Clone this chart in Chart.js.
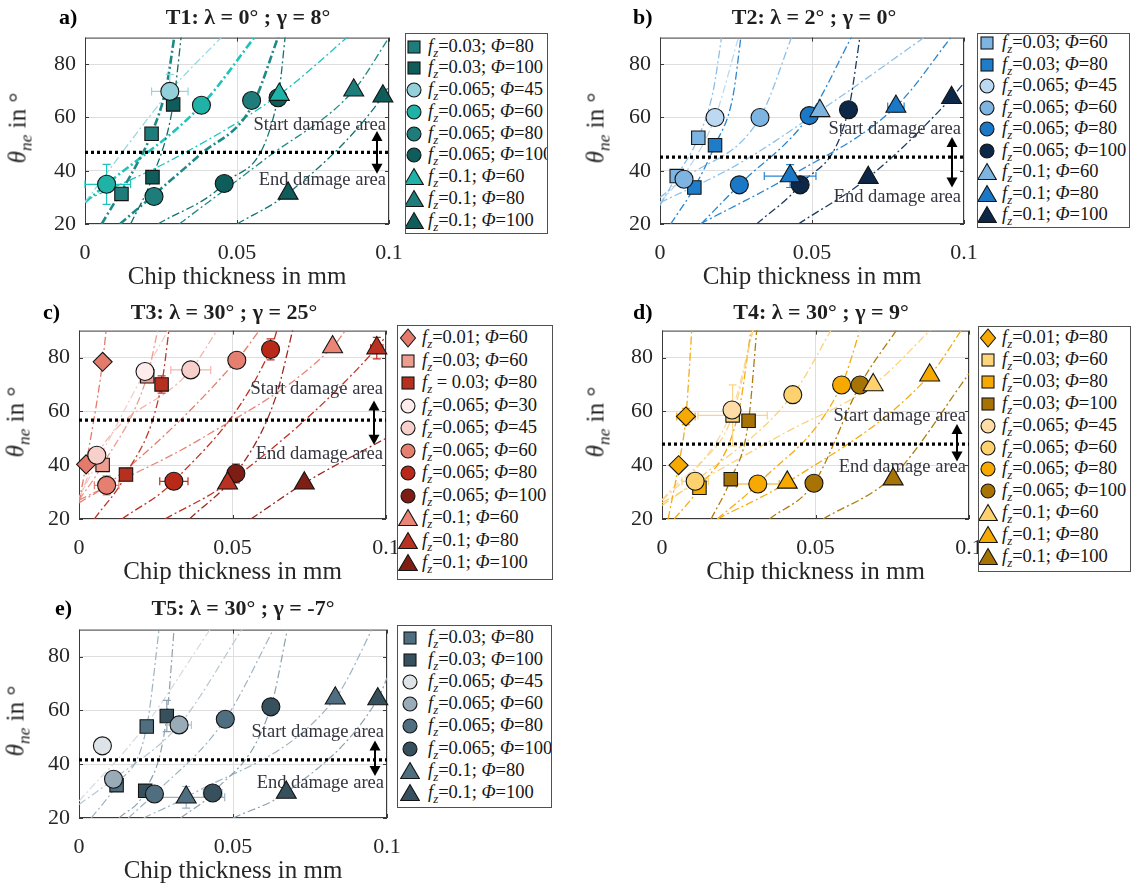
<!DOCTYPE html>
<html>
<head>
<meta charset="utf-8">
<script src="https://cdn.jsdelivr.net/npm/chart.js@4.4.1/dist/chart.umd.min.js"></script>
<style>
  html, body { margin: 0; padding: 0; background: #fff; }
  body { width: 1132px; height: 888px; position: relative; overflow: hidden;
         font-family: "Liberation Serif", "Times New Roman", serif; color: #262626; }
  canvas { position: absolute; }
  .tag { position: absolute; font-weight: bold; font-size: 22px; color: #000;
         transform: translateY(-50%); white-space: nowrap; line-height: 1; }
  .ttl { position: absolute; font-weight: bold; font-size: 22px; color: #1f1f1f;
         transform: translate(-50%, -50%); white-space: nowrap; line-height: 1; }
  .ylab { position: absolute; font-size: 25px; color: #262626; white-space: nowrap; line-height: 1;
          transform: translate(-50%, -50%) rotate(-90deg); }
  .ylab sub, .lt sub { font-size: 0.7em; vertical-align: -0.35em; line-height: 0; }
  .leg { position: absolute; box-sizing: border-box; border: 1px solid #505050; background: #fff; overflow: hidden; }
  .row { position: absolute; left: 0; height: 0; width: 100%; }
  .lt { position: absolute; top: 0; font-size: 18.5px; color: #151515; white-space: nowrap;
        line-height: 1; transform: translateY(-52%); }
</style>
</head>
<body>
<script>
// ---------- shared axes ----------
const xTicks = [0, 0.05, 0.1];
const xTickLabels = ['0', '0.05', '0.1'];
const yTicks = [20, 40, 60, 80];
const yTickLabels = ['20', '40', '60', '80'];
const xTitle = 'Chip thickness in mm';
const damageLabels = ['Start damage area', 'End damage area'];
const panelTags = ['a)', 'b)', 'c)', 'd)', 'e)'];
const panelTitles = ['T1: λ = 0° ; γ = 8°', 'T2: λ = 2° ; γ = 0°', 'T3: λ = 30° ; γ = 25°',
                     'T4: λ = 30° ; γ = 9°', 'T5: λ = 30° ; γ = -7°'];

// ---------- T1 ----------
const aFeed = ['0.03', '0.03', '0.065', '0.065', '0.065', '0.065', '0.1', '0.1', '0.1'];
const aPhi = [80, 100, 45, 60, 80, 100, 60, 80, 100];
const aPoints = [
  [[0.0120, 31.3], [0.0219, 53.9]],
  [[0.0222, 37.6], [0.0290, 64.9]],
  [[0.0279, 69.8]],
  [[0.0071, 34.9], [0.0383, 64.6]],
  [[0.0227, 30.3], [0.0548, 66.4]],
  [[0.0458, 35.2], [0.0635, 67.4]],
  [[0.0639, 68.6]],
  [[0.0884, 70.2]],
  [[0.0668, 31.5], [0.0980, 68.0]]
];
const aCurves = [
  [[0.0055, 20], [0.0181, 44.7], [0.0219, 53.9], [0.0268, 71.7], [0.0296, 92]],
  [[0.0150, 20], [0.0222, 37.6], [0.0290, 64.9], [0.0318, 92]],
  [[0, 28.2], [0.0279, 69.8], [0.0465, 92]],
  [[0, 28.2], [0.0071, 34.9], [0.0383, 64.6], [0.0570, 92]],
  [[0.0115, 20], [0.0227, 31.0], [0.0378, 46.0], [0.0548, 64.0], [0.0641, 92]],
  [[0.0240, 20], [0.0458, 35.2], [0.0635, 67.4], [0.0660, 92]],
  [[0, 28.8], [0.0300, 45.0], [0.0639, 68.6], [0.0882, 92]],
  [[0.0310, 20], [0.0600, 45.0], [0.0884, 70.2], [0.1000, 90]],
  [[0.0500, 20], [0.0668, 31.5], [0.0980, 68.0], [0.1000, 72]]
];
const aThreshold = 46.9;
const aErrors = [[2, 0, 0.0060, 6.4], [3, 0, 0.0079, 7.5]];

// ---------- T2 ----------
const bFeed = ['0.03', '0.03', '0.065', '0.065', '0.065', '0.065', '0.1', '0.1', '0.1'];
const bPhi = [60, 80, 45, 60, 80, 100, 60, 80, 100];
const bPoints = [
  [[0.0055, 38.0], [0.0126, 52.4]],
  [[0.0113, 33.7], [0.0181, 49.6]],
  [[0.0181, 60.0]],
  [[0.0079, 36.8], [0.0329, 60.0]],
  [[0.0261, 34.7], [0.0491, 60.7]],
  [[0.0461, 34.7], [0.0620, 62.9]],
  [[0.0526, 62.5]],
  [[0.0428, 38.0], [0.0776, 64.1]],
  [[0.0685, 37.4], [0.0959, 67.4]]
];
const bCurves = [
  [[0, 27], [0.0055, 38.0], [0.0126, 52.4], [0.0175, 70], [0.0205, 92]],
  [[0.0035, 20], [0.0113, 33.7], [0.0181, 49.6], [0.0240, 68], [0.0268, 92]],
  [[0, 28], [0.0100, 42], [0.0181, 60.0], [0.0263, 92]],
  [[0, 30], [0.0079, 37], [0.0329, 60.0], [0.0439, 92]],
  [[0.0135, 20], [0.0261, 34.7], [0.0491, 60.7], [0.0638, 92]],
  [[0.0318, 20], [0.0461, 34.7], [0.0620, 62.9], [0.0660, 92]],
  [[0, 28], [0.0250, 42], [0.0526, 62.5], [0.0893, 92]],
  [[0.0132, 20], [0.0428, 38.0], [0.0776, 64.1], [0.0970, 92]],
  [[0.0455, 20], [0.0685, 37.4], [0.0959, 67.4], [0.1000, 73]]
];
const bThreshold = 45.1;
const bErrors = [[7, 0, 0.0085, 4.3], [7, 1, 0.0027, 2.0]];

// ---------- T3 ----------
const cFeed = ['0.01', '0.03', '0.03', '0.065', '0.065', '0.065', '0.065', '0.065', '0.1', '0.1', '0.1'];
const cPhi = [60, 60, 80, 30, 45, 60, 80, 100, 60, 80, 100];
const cPoints = [
  [[0.0023, 40.3], [0.0077, 78.4]],
  [[0.0077, 40.1], [0.0222, 73.0]],
  [[0.0153, 36.5], [0.0269, 70.0]],
  [[0.0215, 74.8]],
  [[0.0058, 43.7], [0.0364, 75.4]],
  [[0.0090, 32.5], [0.0514, 79.0]],
  [[0.0309, 34.0], [0.0624, 83.0]],
  [[0.0511, 36.9]],
  [[0.0826, 83.9]],
  [[0.0484, 33.3], [0.0970, 83.5]],
  [[0.0734, 33.3]]
];
const cCurves = [
  [[0, 26], [0.0023, 40.3], [0.0077, 78.4], [0.0090, 92]],
  [[0, 27], [0.0077, 40.1], [0.0222, 73.0], [0.0260, 92]],
  [[0.0050, 20], [0.0153, 36.5], [0.0269, 70.0], [0.0295, 92]],
  [[0, 28], [0.0215, 74.8], [0.0300, 92]],
  [[0, 27], [0.0058, 43.7], [0.0364, 75.4], [0.0460, 92]],
  [[0, 26], [0.0090, 32.5], [0.0514, 79.0], [0.0600, 92]],
  [[0.0140, 20], [0.0309, 34.0], [0.0624, 83.0], [0.0650, 92]],
  [[0.0360, 20], [0.0511, 36.9], [0.0640, 65], [0.0700, 92]],
  [[0, 27], [0.0400, 50], [0.0826, 83.9], [0.0880, 92]],
  [[0.0280, 20], [0.0484, 33.3], [0.0970, 83.5], [0.1000, 88]],
  [[0.0560, 20], [0.0734, 33.3], [0.1000, 50]]
];
const cThreshold = 56.7;
const cErrors = [[2, 1, 0, 3.2], [3, 0, 0.0020, 2.5], [4, 1, 0.0065, 0], [5, 0, 0.0040, 3.5],
                 [6, 0, 0.0046, 0], [6, 1, 0, 3.9], [7, 0, 0, 3.5], [9, 0, 0, 2.0], [9, 1, 0.0020, 4.0]];

// ---------- T4 ----------
const dFeed = ['0.01', '0.03', '0.03', '0.03', '0.065', '0.065', '0.065', '0.065', '0.1', '0.1', '0.1'];
const dPhi = [80, 60, 80, 100, 45, 60, 80, 100, 60, 80, 100];
const dPoints = [
  [[0.0054, 40.0], [0.0078, 58.1]],
  [[0.0230, 58.5]],
  [[0.0122, 31.6]],
  [[0.0224, 34.8], [0.0282, 56.5]],
  [[0.0228, 60.5]],
  [[0.0108, 34.0], [0.0426, 66.2]],
  [[0.0312, 33.0], [0.0585, 69.8]],
  [[0.0495, 33.3], [0.0645, 69.8]],
  [[0.0688, 69.8]],
  [[0.0408, 33.6], [0.0872, 73.4]],
  [[0.0753, 34.8]]
];
const dCurves = [
  [[0.0020, 20], [0.0054, 40.0], [0.0078, 58.1], [0.0098, 92]],
  [[0, 27], [0.0120, 40], [0.0230, 58.5], [0.0300, 92]],
  [[0.0040, 20], [0.0122, 31.6], [0.0250, 60], [0.0292, 92]],
  [[0.0160, 20], [0.0224, 34.8], [0.0282, 56.5], [0.0310, 92]],
  [[0, 27], [0.0228, 60.5], [0.0300, 92]],
  [[0, 25], [0.0108, 34.0], [0.0426, 66.2], [0.0560, 92]],
  [[0.0180, 20], [0.0312, 33.0], [0.0585, 69.8], [0.0650, 92]],
  [[0.0350, 20], [0.0495, 33.3], [0.0645, 69.8], [0.0775, 92]],
  [[0, 26], [0.0400, 52], [0.0688, 69.8], [0.0890, 92]],
  [[0.0180, 20], [0.0408, 33.6], [0.0872, 73.4], [0.0986, 92]],
  [[0.0525, 20], [0.0753, 36.0], [0.1000, 74]]
];
const dThreshold = 47.8;
const dErrors = [[0, 1, 0.0030, 3.0], [1, 0, 0.0113, 11.3], [5, 0, 0.0043, 2.5], [6, 0, 0.0070, 0]];

// ---------- T5 ----------
const eFeed = ['0.03', '0.03', '0.065', '0.065', '0.065', '0.065', '0.1', '0.1'];
const ePhi = [80, 100, 45, 60, 80, 100, 80, 100];
const ePoints = [
  [[0.0122, 32.2], [0.0220, 54.0]],
  [[0.0215, 30.1], [0.0285, 57.9]],
  [[0.0076, 46.8]],
  [[0.0112, 34.4], [0.0325, 54.6]],
  [[0.0245, 28.9], [0.0475, 56.7]],
  [[0.0434, 29.3], [0.0623, 61.3]],
  [[0.0348, 27.7], [0.0832, 64.5]],
  [[0.0673, 29.5], [0.0970, 64.2]]
];
const eCurves = [
  [[0.0040, 20], [0.0122, 32.2], [0.0220, 54.0], [0.0262, 92]],
  [[0.0130, 20], [0.0215, 30.1], [0.0285, 57.9], [0.0310, 92]],
  [[0, 26.3], [0.0200, 52], [0.0437, 92]],
  [[0, 25], [0.0112, 34.4], [0.0325, 54.6], [0.0540, 92]],
  [[0.0160, 20], [0.0245, 28.9], [0.0475, 56.7], [0.0640, 92]],
  [[0.0330, 20], [0.0434, 29.3], [0.0623, 61.3], [0.0680, 92]],
  [[0.0210, 20], [0.0348, 27.7], [0.0832, 64.5], [0.0960, 92]],
  [[0.0500, 20], [0.0673, 29.5], [0.0970, 64.2], [0.1000, 72]]
];
const eThreshold = 41.6;
const eErrors = [[1, 1, 0, 5.8], [3, 1, 0.0040, 0], [6, 0, 0.0125, 4.0], [5, 0, 0.0030, 0]];

// ---------- styles ----------
const aShapes = ['rect', 'rect', 'circle', 'circle', 'circle', 'circle', 'triangle', 'triangle', 'triangle'];
const aFills = ['#1e7d7a', '#0f5d5a', '#93d1da', '#1fb3a8', '#1e7d7a', '#0f5d5a', '#1fb3a8', '#1e7d7a', '#0f5d5a'];
const aLines = ['#1e8a86', '#126a66', '#92d6de', '#1cc4bc', '#1e8a86', '#127572', '#1cc4bc', '#1e8a86', '#127572'];
const aWidths = [2.6, 1.3, 1.2, 2.6, 2.6, 1.3, 1.3, 1.3, 1.3];

const bShapes = aShapes;
const bFills = ['#7db4e2', '#1e7cc8', '#bcd9f1', '#7db4e2', '#1a78c6', '#0c2748', '#7db4e2', '#1a78c6', '#0c2748'];
const bLines = ['#8cc0e8', '#2b86cf', '#bcd9f1', '#8cc0e8', '#2b86cf', '#1b3a60', '#8cc0e8', '#2b86cf', '#1b3a60'];
const bWidths = [1.3, 1.3, 1.3, 1.3, 1.3, 1.3, 1.3, 1.3, 1.3];

const cShapes = ['rectRot', 'rect', 'rect', 'circle', 'circle', 'circle', 'circle', 'circle', 'triangle', 'triangle', 'triangle'];
const cFills = ['#e37a6c', '#ef9c90', '#b7301f', '#fdeceb', '#f8d0cb', '#e57f70', '#b9291a', '#7d1d14', '#ea8575', '#bb3121', '#7e1e15'];
const cLines = ['#e37a6c', '#ef9c90', '#c03a2a', '#f6cdc7', '#f3b7ae', '#e57f70', '#c0301f', '#9a2a20', '#ea8575', '#c0301f', '#9a2a20'];
const cWidths = [1.3, 1.3, 1.3, 1.3, 1.3, 1.3, 1.3, 1.3, 1.3, 1.3, 1.3];

const dShapes = ['rectRot', 'rect', 'rect', 'rect', 'circle', 'circle', 'circle', 'circle', 'triangle', 'triangle', 'triangle'];
const dFills = ['#f6a900', '#fdd47a', '#f6a900', '#a87305', '#fddca6', '#fdd26e', '#f6a900', '#a87305', '#fdd26e', '#f6a900', '#a87305'];
const dLines = ['#f4ac10', '#fbd486', '#f4ac10', '#b07c10', '#fbd9a6', '#fbd27a', '#f4ac10', '#b07c10', '#fbd27a', '#f4ac10', '#b07c10'];
const dWidths = [1.3, 1.3, 1.3, 1.3, 1.3, 1.3, 1.3, 1.3, 1.3, 1.3, 1.3];

const eShapes = ['rect', 'rect', 'circle', 'circle', 'circle', 'circle', 'triangle', 'triangle'];
const eFills = ['#4f6f80', '#37505e', '#dde3e7', '#99abb7', '#4f6f80', '#37505e', '#4f6f80', '#37505e'];
const eLines = ['#9fb3bf', '#8da2ae', '#d4dce0', '#b8c6ce', '#9fb3bf', '#8da2ae', '#9fb3bf', '#8da2ae'];
const eWidths = [1.2, 1.2, 1.2, 1.2, 1.2, 1.2, 1.2, 1.2];

const markerRadius = { circle: 9, rect: 9.5, triangle: 11.5, rectRot: 9.5 };

// ---------- page layout (pixels) ----------
const panels = [
  { feed: aFeed, phi: aPhi, pts: aPoints, curves: aCurves, thr: aThreshold, errs: aErrors,
    shapes: aShapes, fills: aFills, lines: aLines, widths: aWidths,
    plot: [85, 33, 304, 191], tag: [59, 17], title: [248, 17], ylab: [17, 128],
    legend: [405, 33, 143, 201], iconX: 414, textX: 428, row0: 46.7, dy: 21.75,
    textOff: [10.1, -10.5], arrowOff: [8, -8], spacedEq: [] },
  { feed: bFeed, phi: bPhi, pts: bPoints, curves: bCurves, thr: bThreshold, errs: bErrors,
    shapes: bShapes, fills: bFills, lines: bLines, widths: bWidths,
    plot: [660, 33, 304, 191], tag: [633, 17], title: [814, 17], ylab: [595, 128],
    legend: [977, 33, 153, 195], iconX: 987, textX: 1002, row0: 43, dy: 21.5,
    textOff: [10.7, -15.1], arrowOff: [7.6, -11.4], spacedEq: [] },
  { feed: cFeed, phi: cPhi, pts: cPoints, curves: cCurves, thr: cThreshold, errs: cErrors,
    shapes: cShapes, fills: cFills, lines: cLines, widths: cWidths,
    plot: [79, 326, 307, 193], tag: [43, 312], title: [224, 312], ylab: [15, 422],
    legend: [397, 325, 156, 255], iconX: 408, textX: 422, row0: 338, dy: 22.5,
    textOff: [11.5, -12.7], arrowOff: [7.3, -9.1], spacedEq: [2] },
  { feed: dFeed, phi: dPhi, pts: dPoints, curves: dCurves, thr: dThreshold, errs: dErrors,
    shapes: dShapes, fills: dFills, lines: dLines, widths: dWidths,
    plot: [662, 326, 307, 193], tag: [633, 312], title: [821, 312], ylab: [595, 422],
    legend: [978, 326, 153, 246], iconX: 988, textX: 1002, row0: 338, dy: 21.9,
    textOff: [10.3, -8.5], arrowOff: [7.5, -6.4], spacedEq: [] },
  { feed: eFeed, phi: ePhi, pts: ePoints, curves: eCurves, thr: eThreshold, errs: eErrors,
    shapes: eShapes, fills: eFills, lines: eLines, widths: eWidths,
    plot: [79, 625, 308, 193], tag: [55, 608], title: [243, 608], ylab: [15, 721],
    legend: [397, 625, 155, 183], iconX: 410, textX: 428, row0: 638, dy: 22.1,
    textOff: [10.3, -8.8], arrowOff: [7.2, -6.0], spacedEq: [] }
];

Chart.defaults.font.family = '"Liberation Serif", "Times New Roman", serif';

// box, inner tick marks, error bars and damage-area annotation
const decoPlugin = {
  id: 'deco',
  beforeDatasetsDraw(chart) {
    const { ctx, chartArea: a, scales: { x, y } } = chart;
    ctx.save();
    ctx.strokeStyle = '#3a3a3a';
    ctx.lineWidth = 1;
    ctx.strokeRect(a.left + 0.5, a.top + 0.5, a.width - 1, a.height - 1);
    ctx.beginPath();
    xTicks.forEach(v => {
      const px = Math.round(x.getPixelForValue(v)) + 0.5;
      ctx.moveTo(px, a.bottom); ctx.lineTo(px, a.bottom - 4);
      ctx.moveTo(px, a.top); ctx.lineTo(px, a.top + 4);
    });
    yTicks.forEach(v => {
      const py = Math.round(y.getPixelForValue(v)) + 0.5;
      ctx.moveTo(a.left, py); ctx.lineTo(a.left + 4, py);
      ctx.moveTo(a.right, py); ctx.lineTo(a.right - 4, py);
    });
    ctx.stroke();
    ctx.restore();
  },
  afterDatasetDraw(chart, args, opts) {
    const ds = chart.data.datasets[args.index];
    if (!ds.isThreshold) return;
    const { ctx, chartArea: a, scales: { x, y } } = chart;
    const p = opts.panel;
    ctx.save();
    // error bars
    ctx.lineWidth = 1.2;
    p.errs.forEach(([s, i, ex, ey]) => {
      const [vx, vy] = p.pts[s][i];
      ctx.strokeStyle = p.lines[s];
      ctx.beginPath();
      if (ex > 0) {
        const x0 = x.getPixelForValue(Math.max(0, vx - ex)), x1 = x.getPixelForValue(vx + ex);
        const py = y.getPixelForValue(vy);
        ctx.moveTo(x0, py); ctx.lineTo(x1, py);
        ctx.moveTo(x0, py - 4); ctx.lineTo(x0, py + 4);
        ctx.moveTo(x1, py - 4); ctx.lineTo(x1, py + 4);
      }
      if (ey > 0) {
        const y0 = y.getPixelForValue(vy - ey), y1 = y.getPixelForValue(vy + ey);
        const px = x.getPixelForValue(vx);
        ctx.moveTo(px, y0); ctx.lineTo(px, y1);
        ctx.moveTo(px - 4, y0); ctx.lineTo(px + 4, y0);
        ctx.moveTo(px - 4, y1); ctx.lineTo(px + 4, y1);
      }
      ctx.stroke();
    });
    // damage-area labels
    ctx.font = '18.5px "Liberation Serif", serif';
    ctx.fillStyle = '#34343f';
    ctx.textAlign = 'right';
    ctx.textBaseline = 'middle';
    ctx.fillText(damageLabels[0], a.right - 3, y.getPixelForValue(p.thr + p.textOff[0]));
    ctx.fillText(damageLabels[1], a.right - 3, y.getPixelForValue(p.thr + p.textOff[1]));
    // double arrow
    const ax = a.right - 12;
    const yTop = y.getPixelForValue(p.thr + p.arrowOff[0]);
    const yBot = y.getPixelForValue(p.thr + p.arrowOff[1]);
    ctx.strokeStyle = '#000'; ctx.fillStyle = '#000'; ctx.lineWidth = 2;
    ctx.beginPath(); ctx.moveTo(ax, yTop + 8); ctx.lineTo(ax, yBot - 8); ctx.stroke();
    ctx.beginPath(); ctx.moveTo(ax, yTop); ctx.lineTo(ax - 5.5, yTop + 10); ctx.lineTo(ax + 5.5, yTop + 10); ctx.closePath(); ctx.fill();
    ctx.beginPath(); ctx.moveTo(ax, yBot); ctx.lineTo(ax - 5.5, yBot - 10); ctx.lineTo(ax + 5.5, yBot - 10); ctx.closePath(); ctx.fill();
    ctx.restore();
  }
};

function iconSvg(shape, fill, left) {
  let s;
  if (shape === 'circle') s = '<circle cx="10" cy="10" r="7"/>';
  else if (shape === 'rect') s = '<rect x="4" y="4" width="12" height="12"/>';
  else if (shape === 'triangle') s = '<polygon points="10,1.5 19.3,17.5 0.7,17.5"/>';
  else s = '<polygon points="10,1 17.5,10 10,19 2.5,10"/>';
  return `<svg width="20" height="20" viewBox="0 0 20 20" style="position:absolute;left:${left}px;top:-10px">` +
         `<g fill="${fill}" stroke="#141414" stroke-width="1.1">${s}</g></svg>`;
}

function addDiv(cls, html, left, top) {
  const d = document.createElement('div');
  d.className = cls;
  d.innerHTML = html;
  d.style.left = left + 'px';
  d.style.top = top + 'px';
  document.body.appendChild(d);
  return d;
}

panels.forEach((p, k) => {
  const [L, T, W, H] = p.plot;
  const cv = document.createElement('canvas');
  cv.width = W + 86; cv.height = H + 78;
  cv.style.left = (L - 70) + 'px'; cv.style.top = (T - 8) + 'px';
  cv.style.width = cv.width + 'px'; cv.style.height = cv.height + 'px';
  document.body.appendChild(cv);

  const n = p.pts.length;
  const datasets = [];
  p.pts.forEach((arr, i) => {
    datasets.push({
      data: arr.map(([vx, vy]) => ({ x: vx, y: vy })),
      showLine: false,
      pointStyle: p.shapes[i],
      pointRadius: markerRadius[p.shapes[i]],
      backgroundColor: p.fills[i],
      borderColor: '#141414',
      borderWidth: 1.1,
      clip: false,
      order: n - i
    });
  });
  datasets.push({
    isThreshold: true,
    data: [{ x: xTicks[0], y: p.thr }, { x: xTicks[xTicks.length - 1], y: p.thr }],
    showLine: true, pointRadius: 0, borderColor: '#000', borderWidth: 3.2,
    borderDash: [3, 3], order: 1000
  });
  p.curves.forEach((arr, i) => {
    datasets.push({
      data: arr.map(([vx, vy]) => ({ x: vx, y: vy })),
      showLine: true, pointRadius: 0,
      borderColor: p.lines[i], borderWidth: p.widths[i],
      borderDash: [8, 3, 2, 3],
      cubicInterpolationMode: 'monotone',
      order: 2000 + i
    });
  });

  new Chart(cv, {
    type: 'scatter',
    data: { datasets },
    plugins: [decoPlugin],
    options: {
      responsive: false, animation: false, devicePixelRatio: 1, events: [],
      layout: { padding: { left: 0, right: 16, top: 8, bottom: 0 } },
      plugins: { legend: { display: false }, tooltip: { enabled: false }, deco: { panel: p } },
      scales: {
        x: {
          type: 'linear', min: xTicks[0], max: xTicks[xTicks.length - 1],
          afterBuildTicks: s => { s.ticks = xTicks.map(v => ({ value: v })); },
          afterFit: s => { s.height = 70; s.paddingLeft = 0; s.paddingRight = 0; },
          ticks: { autoSkip: false, maxRotation: 0, padding: 16, color: '#262626',
                   font: { size: 22 }, callback: (v, i) => xTickLabels[i] },
          grid: { color: '#dedede', drawTicks: false, lineWidth: 1 },
          border: { display: false },
          title: { display: true, text: xTitle, color: '#262626', font: { size: 25 },
                   padding: { top: 0, bottom: 2 } }
        },
        y: {
          type: 'linear', min: 20, max: 90,
          afterBuildTicks: s => { s.ticks = yTicks.map(v => ({ value: v })); },
          afterFit: s => { s.width = 70; s.paddingTop = 0; s.paddingBottom = 0; },
          ticks: { autoSkip: false, padding: 9, color: '#262626', font: { size: 22 },
                   callback: (v, i) => yTickLabels[i] },
          grid: { color: '#dedede', drawTicks: false, lineWidth: 1 },
          border: { display: false }
        }
      }
    }
  });

  // headings and axis label
  addDiv('tag', panelTags[k], p.tag[0], p.tag[1]);
  addDiv('ttl', panelTitles[k], p.title[0], p.title[1]);
  addDiv('ylab', '<i>θ</i><sub><i>ne</i></sub> in °', p.ylab[0], p.ylab[1]);

  // legend
  const [bl, bt, bw, bh] = p.legend;
  const box = addDiv('leg', '', bl, bt);
  box.style.width = bw + 'px'; box.style.height = bh + 'px';
  p.feed.forEach((f, i) => {
    const row = document.createElement('div');
    row.className = 'row';
    row.style.top = (p.row0 + i * p.dy - bt - 1) + 'px';
    const eq = p.spacedEq.includes(i) ? ' = ' : '=';
    row.innerHTML = iconSvg(p.shapes[i], p.fills[i], p.iconX - bl - 11) +
      `<span class="lt" style="left:${p.textX - bl - 1}px"><i>f</i><sub><i>z</i></sub>${eq}${f}; <i>Φ</i>=${p.phi[i]}</span>`;
    box.appendChild(row);
  });
});
</script>
</body>
</html>
